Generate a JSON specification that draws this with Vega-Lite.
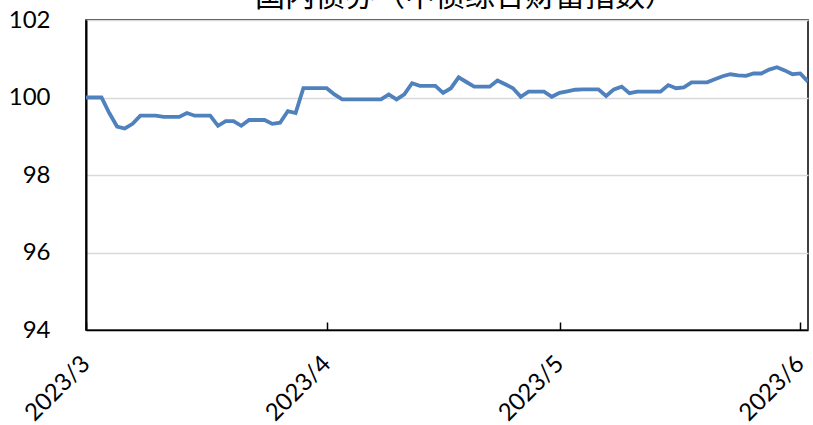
{
  "$schema": "https://vega.github.io/schema/vega-lite/v6.json",
  "autosize": {"type": "none"},
  "padding": {"left": 86, "top": 20, "right": 5, "bottom": 95},
  "width": 722,
  "height": 310,
  "background": "white",
  "title": {
    "text": "国内债券（中债综合财富指数）",
    "font": "Noto Sans CJK SC",
    "fontSize": 30,
    "fontWeight": "normal",
    "color": "#000000",
    "baseline": "alphabetic",
    "offset": 0,
    "dy": 28,
    "anchor": "middle",
    "dx": 18
  },
  "config": {
    "view": {"stroke": "#000000", "strokeWidth": 1.5},
    "axis": {"labelFont": "Lato", "labelFontSize": 24, "labelColor": "#000000"}
  },
  "data": {
    "values": [
      {"date": "2023-03-01", "value": 100.0},
      {"date": "2023-03-02", "value": 100.0},
      {"date": "2023-03-03", "value": 100.0},
      {"date": "2023-03-04", "value": 99.6},
      {"date": "2023-03-05", "value": 99.25},
      {"date": "2023-03-06", "value": 99.2},
      {"date": "2023-03-07", "value": 99.32},
      {"date": "2023-03-08", "value": 99.53},
      {"date": "2023-03-09", "value": 99.53},
      {"date": "2023-03-10", "value": 99.53},
      {"date": "2023-03-11", "value": 99.5},
      {"date": "2023-03-12", "value": 99.5},
      {"date": "2023-03-13", "value": 99.5},
      {"date": "2023-03-14", "value": 99.6},
      {"date": "2023-03-15", "value": 99.53},
      {"date": "2023-03-16", "value": 99.53},
      {"date": "2023-03-17", "value": 99.53},
      {"date": "2023-03-18", "value": 99.27},
      {"date": "2023-03-19", "value": 99.39},
      {"date": "2023-03-20", "value": 99.39},
      {"date": "2023-03-21", "value": 99.27},
      {"date": "2023-03-22", "value": 99.42},
      {"date": "2023-03-23", "value": 99.42},
      {"date": "2023-03-24", "value": 99.42},
      {"date": "2023-03-25", "value": 99.32},
      {"date": "2023-03-26", "value": 99.35},
      {"date": "2023-03-27", "value": 99.65},
      {"date": "2023-03-28", "value": 99.6},
      {"date": "2023-03-29", "value": 100.24},
      {"date": "2023-03-30", "value": 100.24},
      {"date": "2023-03-31", "value": 100.24},
      {"date": "2023-04-01", "value": 100.24},
      {"date": "2023-04-02", "value": 100.08},
      {"date": "2023-04-03", "value": 99.95},
      {"date": "2023-04-04", "value": 99.95},
      {"date": "2023-04-05", "value": 99.95},
      {"date": "2023-04-06", "value": 99.95},
      {"date": "2023-04-07", "value": 99.95},
      {"date": "2023-04-08", "value": 99.95},
      {"date": "2023-04-09", "value": 100.08},
      {"date": "2023-04-10", "value": 99.95},
      {"date": "2023-04-11", "value": 100.08},
      {"date": "2023-04-12", "value": 100.37},
      {"date": "2023-04-13", "value": 100.3},
      {"date": "2023-04-14", "value": 100.3},
      {"date": "2023-04-15", "value": 100.3},
      {"date": "2023-04-16", "value": 100.12},
      {"date": "2023-04-17", "value": 100.24},
      {"date": "2023-04-18", "value": 100.52},
      {"date": "2023-04-19", "value": 100.4},
      {"date": "2023-04-20", "value": 100.28},
      {"date": "2023-04-21", "value": 100.28},
      {"date": "2023-04-22", "value": 100.28},
      {"date": "2023-04-23", "value": 100.44},
      {"date": "2023-04-24", "value": 100.34},
      {"date": "2023-04-25", "value": 100.24},
      {"date": "2023-04-26", "value": 100.02},
      {"date": "2023-04-27", "value": 100.15},
      {"date": "2023-04-28", "value": 100.15},
      {"date": "2023-04-29", "value": 100.15},
      {"date": "2023-04-30", "value": 100.02},
      {"date": "2023-05-01", "value": 100.12},
      {"date": "2023-05-02", "value": 100.16},
      {"date": "2023-05-03", "value": 100.2},
      {"date": "2023-05-04", "value": 100.21},
      {"date": "2023-05-05", "value": 100.21},
      {"date": "2023-05-06", "value": 100.21},
      {"date": "2023-05-07", "value": 100.04},
      {"date": "2023-05-08", "value": 100.21},
      {"date": "2023-05-09", "value": 100.28},
      {"date": "2023-05-10", "value": 100.11},
      {"date": "2023-05-11", "value": 100.15},
      {"date": "2023-05-12", "value": 100.15},
      {"date": "2023-05-13", "value": 100.15},
      {"date": "2023-05-14", "value": 100.15},
      {"date": "2023-05-15", "value": 100.32},
      {"date": "2023-05-16", "value": 100.24},
      {"date": "2023-05-17", "value": 100.26},
      {"date": "2023-05-18", "value": 100.39},
      {"date": "2023-05-19", "value": 100.39},
      {"date": "2023-05-20", "value": 100.39},
      {"date": "2023-05-21", "value": 100.47},
      {"date": "2023-05-22", "value": 100.55},
      {"date": "2023-05-23", "value": 100.6},
      {"date": "2023-05-24", "value": 100.57},
      {"date": "2023-05-25", "value": 100.56},
      {"date": "2023-05-26", "value": 100.62},
      {"date": "2023-05-27", "value": 100.62},
      {"date": "2023-05-28", "value": 100.72},
      {"date": "2023-05-29", "value": 100.78},
      {"date": "2023-05-30", "value": 100.7},
      {"date": "2023-05-31", "value": 100.6},
      {"date": "2023-06-01", "value": 100.62},
      {"date": "2023-06-02", "value": 100.41}
    ]
  },
  "mark": {"type": "line", "color": "#4F81BD", "strokeWidth": 3.8, "clip": true},
  "encoding": {
    "x": {
      "field": "date",
      "type": "temporal",
      "scale": {"domain": [{"year": 2023, "month": 3, "date": 1}, {"year": 2023, "month": 6, "date": 2}]},
      "axis": {
        "title": null,
        "values": [
          {"year": 2023, "month": 3, "date": 1},
          {"year": 2023, "month": 4, "date": 1},
          {"year": 2023, "month": 5, "date": 1},
          {"year": 2023, "month": 6, "date": 1}
        ],
        "format": "%Y/%-m",
        "labelAngle": -45,
        "labelAlign": "right",
        "labelBaseline": "middle",
        "labelPadding": 38,
        "tickSize": -8,
        "tickColor": "#000000",
        "tickWidth": 1.5,
        "domainColor": "#000000",
        "domainWidth": 1.5,
        "grid": false,
        "labelOverlap": false,
        "labelBound": false,
        "labelFlush": false
      }
    },
    "y": {
      "field": "value",
      "type": "quantitative",
      "scale": {"domain": [94, 102], "nice": false, "zero": false},
      "axis": {
        "title": null,
        "values": [94, 96, 98, 100, 102],
        "ticks": false,
        "labelPadding": 36,
        "domainColor": "#000000",
        "domainWidth": 2,
        "grid": true,
        "gridColor": "#D9D9D9",
        "gridWidth": 1.5
      }
    }
  }
}
